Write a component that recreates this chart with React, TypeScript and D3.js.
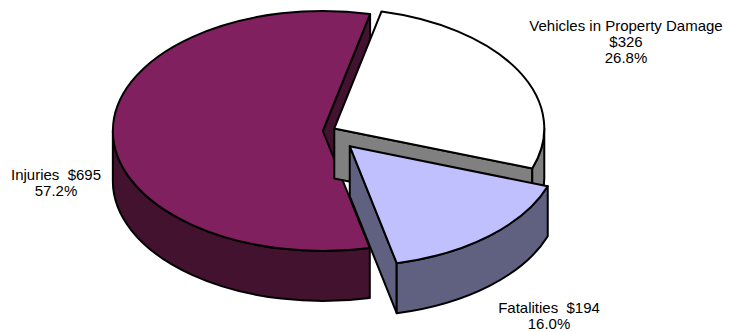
import React from 'react';
import * as d3 from 'd3';

// ---- data ----
const categories: string[] = ['Vehicles in Property Damage', 'Fatalities', 'Injuries'];
const amounts: number[] = [326, 194, 695];
const shares: number[] = [26.8, 16.0, 57.2];

// ---- style ----
const topColors = ['#FFFFFF', '#C0C0FF', '#80205E'];
const sideColors = ['#808080', '#606080', '#42122F'];
const explode = [0.045, 0.17, 0.015];
const drawOrder = [2, 0, 1];

const W = 729;
const H = 332;
const CX = 326;
const CY = 131;
const RX = 210;
const RY = 120;
const DEPTH = 50;
const START_DEG = 13;

const fmtPct = (v: number) => `${v.toFixed(1)}%`;
const fmtAmt = (v: number) => `$${v}`;

export default function App() {
  const pie = d3
    .pie<number>()
    .value((d) => d)
    .sort(null)
    .startAngle((START_DEG * Math.PI) / 180)
    .endAngle((START_DEG * Math.PI) / 180 + 2 * Math.PI);
  const arcs = pie(shares);

  const pt = (cx: number, cy: number, a: number, dy = 0): [number, number] => [
    cx + RX * Math.sin(a),
    cy - RY * Math.cos(a) + dy,
  ];
  const f = (p: [number, number]) => `${p[0].toFixed(2)},${p[1].toFixed(2)}`;

  const slices = arcs.map((a, i) => {
    const mid = (a.startAngle + a.endAngle) / 2;
    const cx = CX + explode[i] * RX * Math.sin(mid);
    const cy = CY - explode[i] * RY * Math.cos(mid);
    const a0 = a.startAngle;
    const a1 = a.endAngle;
    const large = a1 - a0 > Math.PI ? 1 : 0;
    const p0 = pt(cx, cy, a0);
    const p1 = pt(cx, cy, a1);
    const top = `M${cx},${cy}L${f(p0)}A${RX},${RY} 0 ${large} 1 ${f(p1)}Z`;

    const walls: string[] = [];
    // radial walls
    if (Math.sin(a0) < -1e-6) {
      walls.push(`M${cx},${cy}L${f(p0)}L${f(pt(cx, cy, a0, DEPTH))}L${cx},${cy + DEPTH}Z`);
    }
    if (Math.sin(a1) > 1e-6) {
      walls.push(`M${cx},${cy}L${f(p1)}L${f(pt(cx, cy, a1, DEPTH))}L${cx},${cy + DEPTH}Z`);
    }
    // outer wall (front half of rim)
    const ranges = [
      [Math.PI / 2, (3 * Math.PI) / 2],
      [Math.PI / 2 + 2 * Math.PI, (3 * Math.PI) / 2 + 2 * Math.PI],
    ];
    ranges.forEach(([lo, hi]) => {
      const s = Math.max(a0, lo);
      const e = Math.min(a1, hi);
      if (e > s) {
        const lg = e - s > Math.PI ? 1 : 0;
        walls.push(
          `M${f(pt(cx, cy, s))}A${RX},${RY} 0 ${lg} 1 ${f(pt(cx, cy, e))}` +
            `L${f(pt(cx, cy, e, DEPTH))}A${RX},${RY} 0 ${lg} 0 ${f(pt(cx, cy, s, DEPTH))}Z`
        );
      }
    });
    return { top, walls, i };
  });

  const font = "'Liberation Sans', Arial, sans-serif";

  return (
    <svg
      width={W}
      height={H}
      style={{ position: 'absolute', left: 0, top: 0, display: 'block', background: '#fff' }}
    >
      {drawOrder.map((i) => {
        const s = slices[i];
        return (
          <g key={i}>
            {s.walls.map((d, k) => (
              <path key={k} d={d} fill={sideColors[i]} stroke="#000" strokeWidth={2} strokeLinejoin="round" />
            ))}
            <path d={s.top} fill={topColors[i]} stroke="#000" strokeWidth={2} strokeLinejoin="round" />
          </g>
        );
      })}
      <g fontFamily={font} fontSize={15} fill="#000" textAnchor="middle">
        <text x={626} y={31}>{categories[0]}</text>
        <text x={626} y={47}>{fmtAmt(amounts[0])}</text>
        <text x={626} y={63}>{fmtPct(shares[0])}</text>

        <text x={549} y={313} style={{ whiteSpace: 'pre' }}>{`${categories[1]}  ${fmtAmt(amounts[1])}`}</text>
        <text x={549} y={329}>{fmtPct(shares[1])}</text>

        <text x={56} y={180} style={{ whiteSpace: 'pre' }}>{`${categories[2]}  ${fmtAmt(amounts[2])}`}</text>
        <text x={56} y={196}>{fmtPct(shares[2])}</text>
      </g>
    </svg>
  );
}
